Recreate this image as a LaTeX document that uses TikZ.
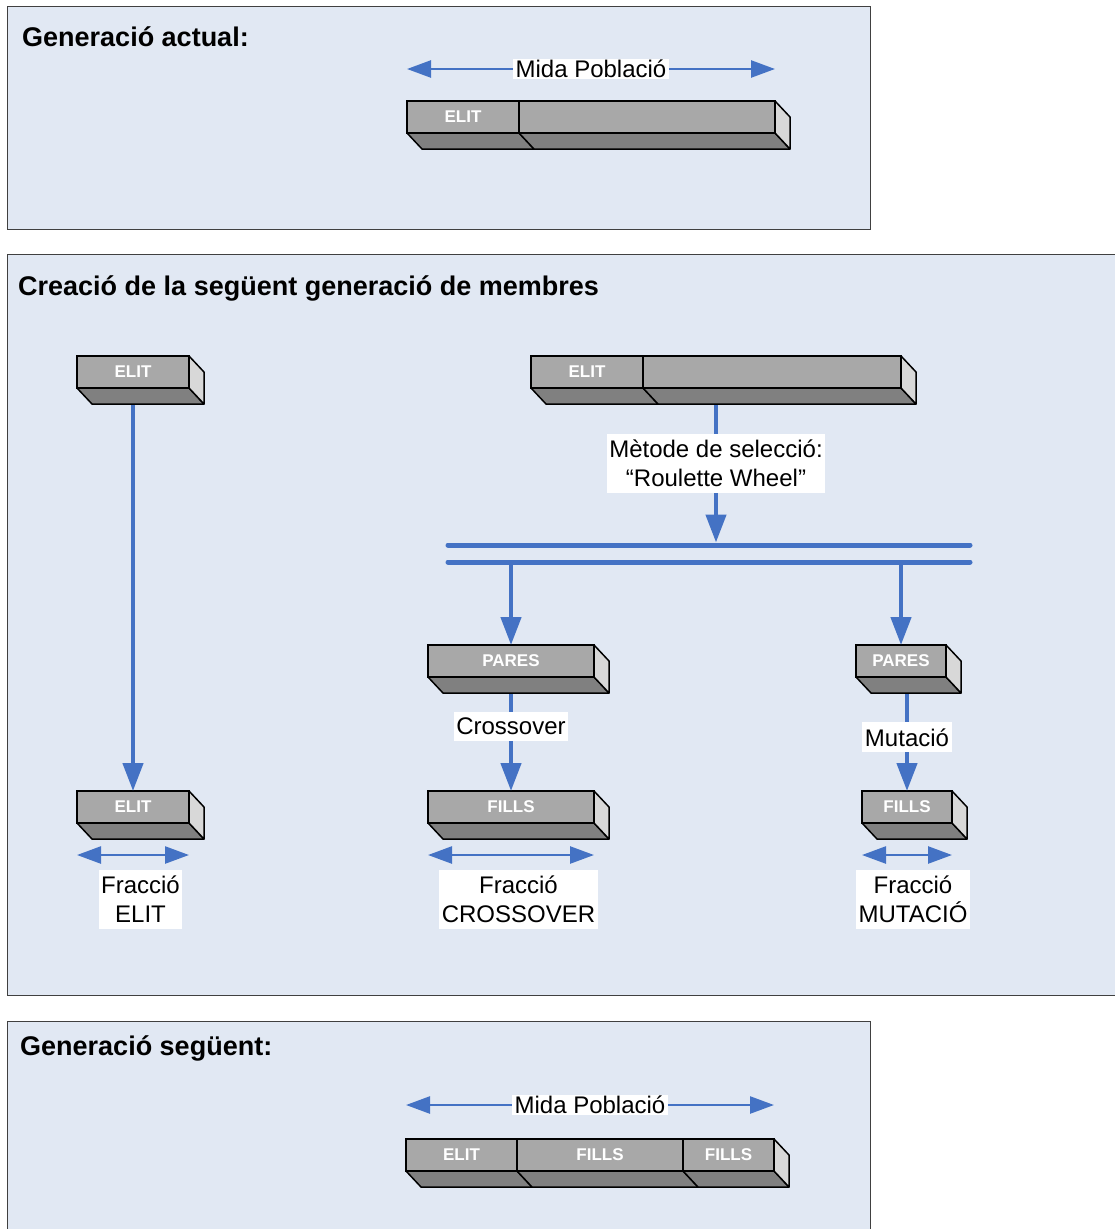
\documentclass[tikz,border=0pt]{standalone}
\usepackage{fontspec}
\setmainfont{Liberation Sans}
\newcommand{\drawBottom}[1]{\draw[facet,fill=blockbottom] (#1.south west) -- (#1.south east) -- ++(15,16) -- ([shift={(15,16)}]#1.south west) -- cycle;}
\newcommand{\drawSide}[1]{\draw[facet,fill=blockside] (#1.north east) -- ++(15,16) -- ([shift={(15,16)}]#1.south east) -- (#1.south east) -- cycle;}
\newcommand{\drawSpan}[1]{\draw[span] ([yshift=-32pt]#1.south west) -- ([yshift=-32pt]#1.south east);}
\usepackage{tikz}
\usetikzlibrary{arrows.meta, positioning, calc}
\definecolor{panelfill}{HTML}{E1E8F3}
\definecolor{panelline}{HTML}{404040}
\definecolor{flowblue}{HTML}{4472C4}
\definecolor{blockfront}{HTML}{A8A8A8}
\definecolor{blockbottom}{HTML}{808080}
\definecolor{blockside}{HTML}{D8D8D8}
\tikzset{
    panel/.style={draw=panelline,fill=panelfill,line width=1pt},
    paneltitle/.style={anchor=base west,inner sep=0pt,font=\fontsize{27}{32}\selectfont\bfseries},
    block/.style={draw,line width=1.5pt,fill=blockfront,minimum height=32pt,inner sep=0pt,outer sep=0pt,
        text=white,font=\fontsize{17}{20}\selectfont\bfseries},
    facet/.style={draw,line width=1.5pt,line join=round},
    flow/.style={draw=flowblue,line width=4.5pt,-{Triangle[length=28pt,width=20pt]}},
    span/.style={draw=flowblue,line width=2.5pt,{Triangle[length=24pt,width=17pt]}-{Triangle[length=24pt,width=17pt]}},
    bus/.style={draw=flowblue,line width=5pt,line cap=round},
    tag/.style={fill=white,inner xsep=2.5pt,inner ysep=6pt,align=center,font=\fontsize{24}{29}\selectfont}}
\begin{document}
\begin{tikzpicture}[x=1pt,y=-1pt]
\clip (0,0) rectangle (1115,1229);
% panels
\draw[panel] (7,6) rectangle (870,229);
\draw[panel] (7,254) rectangle (1130,995);
\draw[panel] (7,1021) rectangle (870,1245);
\node[paneltitle] (t1) at (22,46.5)   {Generació actual:};
\node[paneltitle] (t2) at (18,295.5)  {Creació de la següent generació de membres};
\node[paneltitle] (t3) at (20,1055.5) {Generació següent:};

% current generation
\node[block,minimum width=112pt,anchor=north west] (elitA) at (407,101) {ELIT};
\node[block,minimum width=256pt,right=0pt of elitA] (restA) {};
\draw[span] ([yshift=32pt]elitA.north west) -- ([yshift=32pt]restA.north east)
    node[tag,midway,inner ysep=1.5pt] {Mida Població};

% next generation built
\node[block,minimum width=112pt,anchor=north west] (elitB) at (77,356) {ELIT};
\node[block,minimum width=112pt,anchor=north west] (elitC) at (77,791) {ELIT};
\node[block,minimum width=112pt,anchor=north west] (elitT) at (531,356) {ELIT};
\node[block,minimum width=258pt,right=0pt of elitT] (restT) {};
\node[block,minimum width=166pt,anchor=north west] (paresC) at (428,645) {PARES};
\node[block,minimum width=90pt,anchor=north west]  (paresM) at (856,645) {PARES};
\node[block,minimum width=166pt,below=114pt of paresC] (fillsC) {FILLS};
\node[block,minimum width=90pt,anchor=north west]  (fillsM) at (862,791) {FILLS};

\coordinate (busA1) at (448,545);
\coordinate (busA2) at (970,545);
\coordinate (busB1) at (448,562);
\coordinate (busB2) at (970,562);
\coordinate (selTop) at ($(elitT.south west)!0.5!(restT.south east)$);
\coordinate (selEnd) at ($(selTop |- busA1)+(0,-2.5)$);
\draw[bus] (busA1) -- (busA2);
\draw[bus] (busB1) -- (busB2);

\draw[flow] (elitB.south) -- (elitC.north);
\draw[flow] (selTop) -- (selEnd)
    node[tag,pos=0.49] {Mètode de selecció:\\“Roulette Wheel”};
\draw[flow] (paresC.north |- busB1) -- (paresC.north);
\draw[flow] (paresM.north |- busB1) -- (paresM.north);
\draw[flow] (paresC.south) -- (fillsC.north) node[tag,pos=0.43] {Crossover};
\draw[flow] (paresM.south -| fillsM.north) -- (fillsM.north) node[tag,pos=0.53] {Mutació};

\drawSpan{elitC}
\drawSpan{fillsC}
\drawSpan{fillsM}
\node[tag,below=47pt of elitC,xshift=7.5pt]  (fracE) {Fracció\\ELIT};
\node[tag,below=47pt of fillsC,xshift=7.5pt] (fracC) {Fracció\\CROSSOVER};
\node[tag,below=47pt of fillsM,xshift=6pt]   (fracM) {Fracció\\MUTACIÓ};

% following generation
\node[block,minimum width=111pt,anchor=north west] (elitD) at (406,1139) {ELIT};
\node[block,minimum width=166pt,right=0pt of elitD] (fillsD) {FILLS};
\node[block,minimum width=91pt,right=0pt of fillsD]  (fillsE) {FILLS};
\draw[span] ([yshift=34pt]elitD.north west) -- ([yshift=34pt]fillsE.north east)
    node[tag,midway,inner ysep=1.5pt] {Mida Població};

% depth faces
\drawBottom{elitA} \drawBottom{restA} \drawSide{restA}
\drawBottom{elitB} \drawSide{elitB}
\drawBottom{elitC} \drawSide{elitC}
\drawBottom{elitT} \drawBottom{restT} \drawSide{restT}
\drawBottom{paresC} \drawSide{paresC}
\drawBottom{paresM} \drawSide{paresM}
\drawBottom{fillsC} \drawSide{fillsC}
\drawBottom{fillsM} \drawSide{fillsM}
\drawBottom{elitD} \drawBottom{fillsD} \drawBottom{fillsE} \drawSide{fillsE}
\end{tikzpicture}
\end{document}
